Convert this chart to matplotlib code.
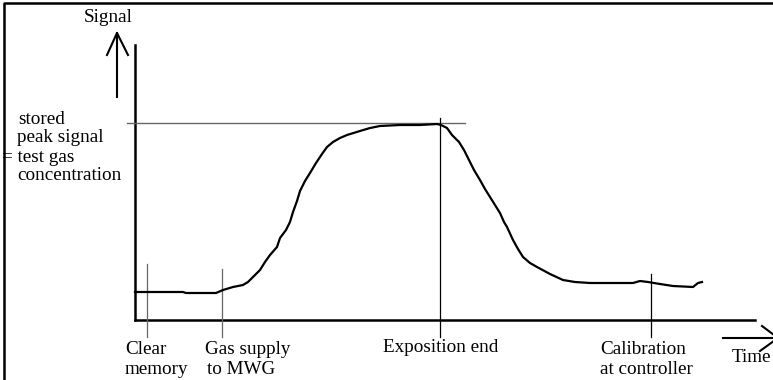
import matplotlib.pyplot as plt

plt.rcParams['font.family'] = ['Liberation Serif', 'DejaVu Serif']

# sensor signal over time (time from axis origin, signal above baseline)
time = [0, 48, 51, 81, 88, 98, 108, 113, 118, 125,
        130, 135, 142, 145, 151, 155, 158, 162, 165, 170,
        175, 181, 187, 192, 198, 205, 212, 225, 235, 245,
        265, 285, 302, 306, 312, 317, 324, 329, 334, 339,
        345, 350, 355, 360, 365, 369, 372, 378, 383, 388,
        395, 402, 415, 428, 440, 455, 498, 505, 513, 525,
        538, 558, 563, 567]
signal = [28, 28, 27, 27, 30, 33, 35, 38, 43, 50,
          58, 65, 73, 82, 90, 98, 108, 119, 129, 139,
          147, 157, 166, 173, 178, 182, 185, 189, 192, 194,
          195, 195, 196, 195, 192, 185, 178, 170, 160, 150,
          140, 131, 123, 115, 107, 98, 93, 80, 71, 63,
          57, 53, 46, 40, 38, 37, 37, 39, 38, 36,
          34, 33, 37, 38]

peak_level = 197

# event markers: (time, top of marker line)
events = ['clear', 'gas', 'expo', 'calib']
event_time = [12, 87, 305, 516]
event_top = [56, 51, 202, 46]
event_color = ['#666666', '#666666', 'black', 'black']

fig = plt.figure(figsize=(7.73, 3.8), dpi=100)
ax = fig.add_axes([0, 0, 1, 1])
ax.set_xlim(-135, 638)
ax.set_ylim(-60, 320)
ax.axis('off')

# frame
ax.plot([-131, -131, 660], [-70, 317, 317], color='black', lw=1.8, clip_on=False)

# axes
ax.plot([0, 0], [0, 275], color='black', lw=1.8)
ax.plot([0, 620], [0, 0], color='black', lw=1.8)

# signal arrow
ax.plot([-18, -18], [223, 287], color='black', lw=1.5)
ax.plot([-28, -18, -7], [265, 287, 265], color='black', lw=1.5)

# time arrow
ax.plot([588, 645], [-18, -18], color='black', lw=1.5, clip_on=False)
ax.plot([627, 643, 625], [-6, -18, -31], color='black', lw=1.5, clip_on=False)

# stored peak level
ax.plot([-8, 330], [peak_level, peak_level], color='#666666', lw=1.0)

for t, top, c in zip(event_time, event_top, event_color):
    ax.plot([t, t], [top, -17], color=c, lw=0.9)

ax.plot(time, signal, color='black', lw=1.6)

fs = 13.8
ax.text(-27, 302, 'Signal', fontsize=fs, ha='center', va='center')
ax.text(-117, 200, 'stored', fontsize=fs, ha='left', va='center')
ax.text(-118, 182, 'peak signal', fontsize=fs, ha='left', va='center')
ax.text(-133, 163, '= test gas', fontsize=fs, ha='left', va='center')
ax.text(-118, 144, 'concentration', fontsize=fs, ha='left', va='center')

ax.text(-10, -30, 'Clear', fontsize=fs, ha='left', va='center')
ax.text(-10, -49, 'memory', fontsize=fs, ha='left', va='center')
ax.text(70, -30, 'Gas supply', fontsize=fs, ha='left', va='center')
ax.text(72, -49, 'to MWG', fontsize=fs, ha='left', va='center')
ax.text(306, -28, 'Exposition end', fontsize=fs, ha='center', va='center')
ax.text(465, -30, 'Calibration', fontsize=fs, ha='left', va='center')
ax.text(465, -49, 'at controller', fontsize=fs, ha='left', va='center')
ax.text(597, -37, 'Time', fontsize=fs, ha='left', va='center')

fig.savefig('out.png', dpi=100, facecolor='white')
